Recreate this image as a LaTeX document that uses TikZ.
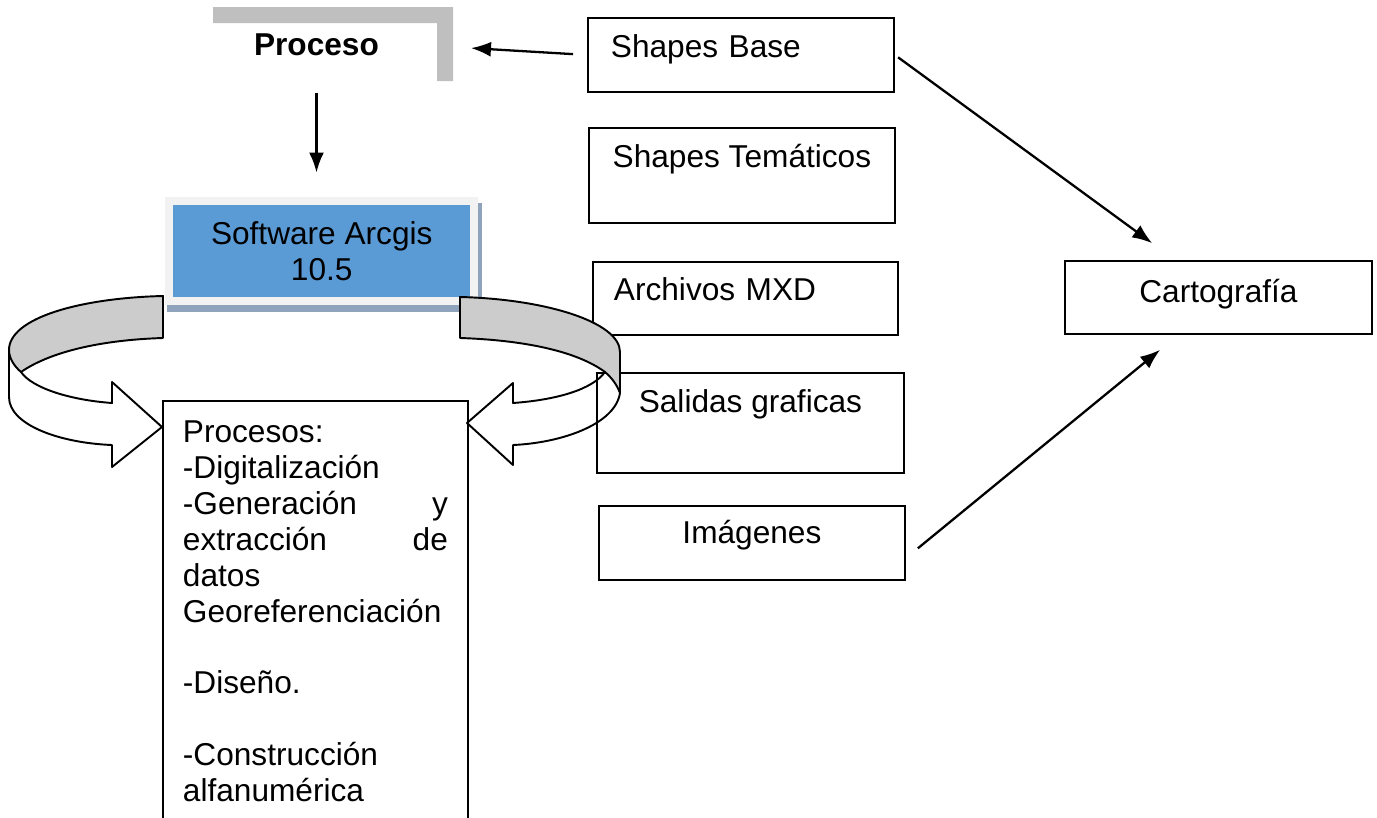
\documentclass[tikz,border=0pt]{standalone}
\usepackage{fontspec}
\setmainfont{Liberation Sans}
\usepackage{tikz}
\usetikzlibrary{arrows.meta, calc, backgrounds}
\usepackage{xcolor}
\definecolor{azularc}{HTML}{5B9BD5}
\definecolor{marco}{HTML}{F2F2F2}
\definecolor{sombra}{HTML}{8FA3BD}
\definecolor{grisb}{HTML}{BFBFBF}
\definecolor{grisc}{HTML}{CCCCCC}
\newcommand{\relleno}{\hskip 0pt plus 1filll}

\begin{document}
\begin{tikzpicture}[x=0.02cm, y=-0.02cm,
    font=\fontsize{18}{20.4}\selectfont,
    caja/.style={draw, line width=1.1pt, inner ysep=0pt, anchor=north west},
    flecha/.style={-{Latex[length=0.4cm,width=0.3cm]}, line width=1.3pt},
    cinta/.style={line width=1.1pt, line join=round}]
    \useasboundingbox (0,0) rectangle (1377,818);
    % Proceso
    \fill[grisb] (213,7) -- (453,7) -- (453,81) -- (437,81) -- (437,23) -- (213,23) -- cycle;
    \node[font=\fontsize{18}{20.4}\selectfont\bfseries, anchor=base, inner sep=0pt] (proc) at (316.5,55) {Proceso};
    \coordinate (brk) at (453,47);
    % Software
    \node[draw=marco, fill=azularc, line width=0.16cm, minimum width=6.11cm, minimum height=2.02cm,
          inner sep=0pt, align=center] (soft) at (321.75,251) {Software Arcgis\\10.5};
    \begin{scope}[on background layer]
        \fill[sombra] ([shift={(2,7)}]soft.south west) rectangle ([shift={(4,6)}]soft.north east);
    \end{scope}
    % Insumos
    \node[caja, inner xsep=0.46cm, text width=5.2cm, align=left, text height=0.8cm, text depth=0.68cm] (sbase) at (587,17) {Shapes Base};
    \node[caja, minimum width=6.12cm, text height=0.8cm, text depth=1.1cm] (stema) at (588,127) {Shapes Temáticos};
    \node[caja, inner xsep=0.42cm, text width=5.26cm, align=left, text height=0.78cm, text depth=0.68cm] (mxd) at (592,261) {Archivos MXD};
    \node[caja, minimum width=6.14cm, text height=0.8cm, text depth=1.2cm] (salid) at (596,372) {Salidas graficas};
    \node[caja, minimum width=6.12cm, text height=0.76cm, text depth=0.72cm] (imag) at (598,505) {Imágenes};
    \node[caja, minimum width=6.14cm, text height=0.84cm, text depth=0.62cm] (carto) at (1064,260) {Cartografía};
    % Procesos
    \node[caja, inner xsep=0.4cm, text width=5.3cm, align=left, text height=0.84cm, text depth=7.96cm] (procs) at (162,400)
        {Procesos:\\
         -Digitalización\\
         -Generación\relleno y\\
         extracción\relleno de\\
         datos\\
         Georeferenciación\\[\baselineskip]
         -Diseño.\\[\baselineskip]
         -Construcción\\
         alfanumérica};
    % Flechas
    \draw[flecha, shorten <=0.28cm, shorten >=0.36cm] (sbase.west) -- (brk);
    \draw[flecha, shorten <=0.74cm, shorten >=0.48cm] (proc.south) -- (proc.south |- soft.north);
    \draw[flecha, shorten <=0.08cm, shorten >=0.57cm] (sbase.east) -- ($(carto.north west)!0.36!(carto.north east)$);
    \draw[flecha, shorten <=0.31cm, shorten >=0.47cm] ($(imag.north east)!0.7!(imag.south east)$) -- ($(carto.south west)!0.37!(carto.south east)$);
    % Cinta izquierda
    \draw[cinta, fill=grisc] (163,296) .. controls (80,298) and (9,318) .. (9,350)
        .. controls (9,358) and (14,366) .. (21,372)
        .. controls (50,352) and (100,340) .. (163,338) -- cycle;
    \draw[cinta] (9,350) -- (9,397) .. controls (9,425) and (60,443) .. (112,445) -- (112,467) -- (162,427)
        -- (112,382) -- (112,403) .. controls (70,400) and (32,388) .. (21,372);
    % Cinta derecha
    \draw[cinta, fill=grisc] (460,297) .. controls (545,299) and (620,322) .. (620,352) -- (620,393)
        .. controls (617,385) and (612,378) .. (605,372)
        .. controls (575,350) and (520,340) .. (460,338) -- cycle;
    \draw[cinta] (620,393) .. controls (615,425) and (560,443) .. (513,445) -- (513,465) -- (467,423)
        -- (513,383) -- (513,403) .. controls (555,400) and (592,390) .. (605,372);
\end{tikzpicture}
\end{document}
